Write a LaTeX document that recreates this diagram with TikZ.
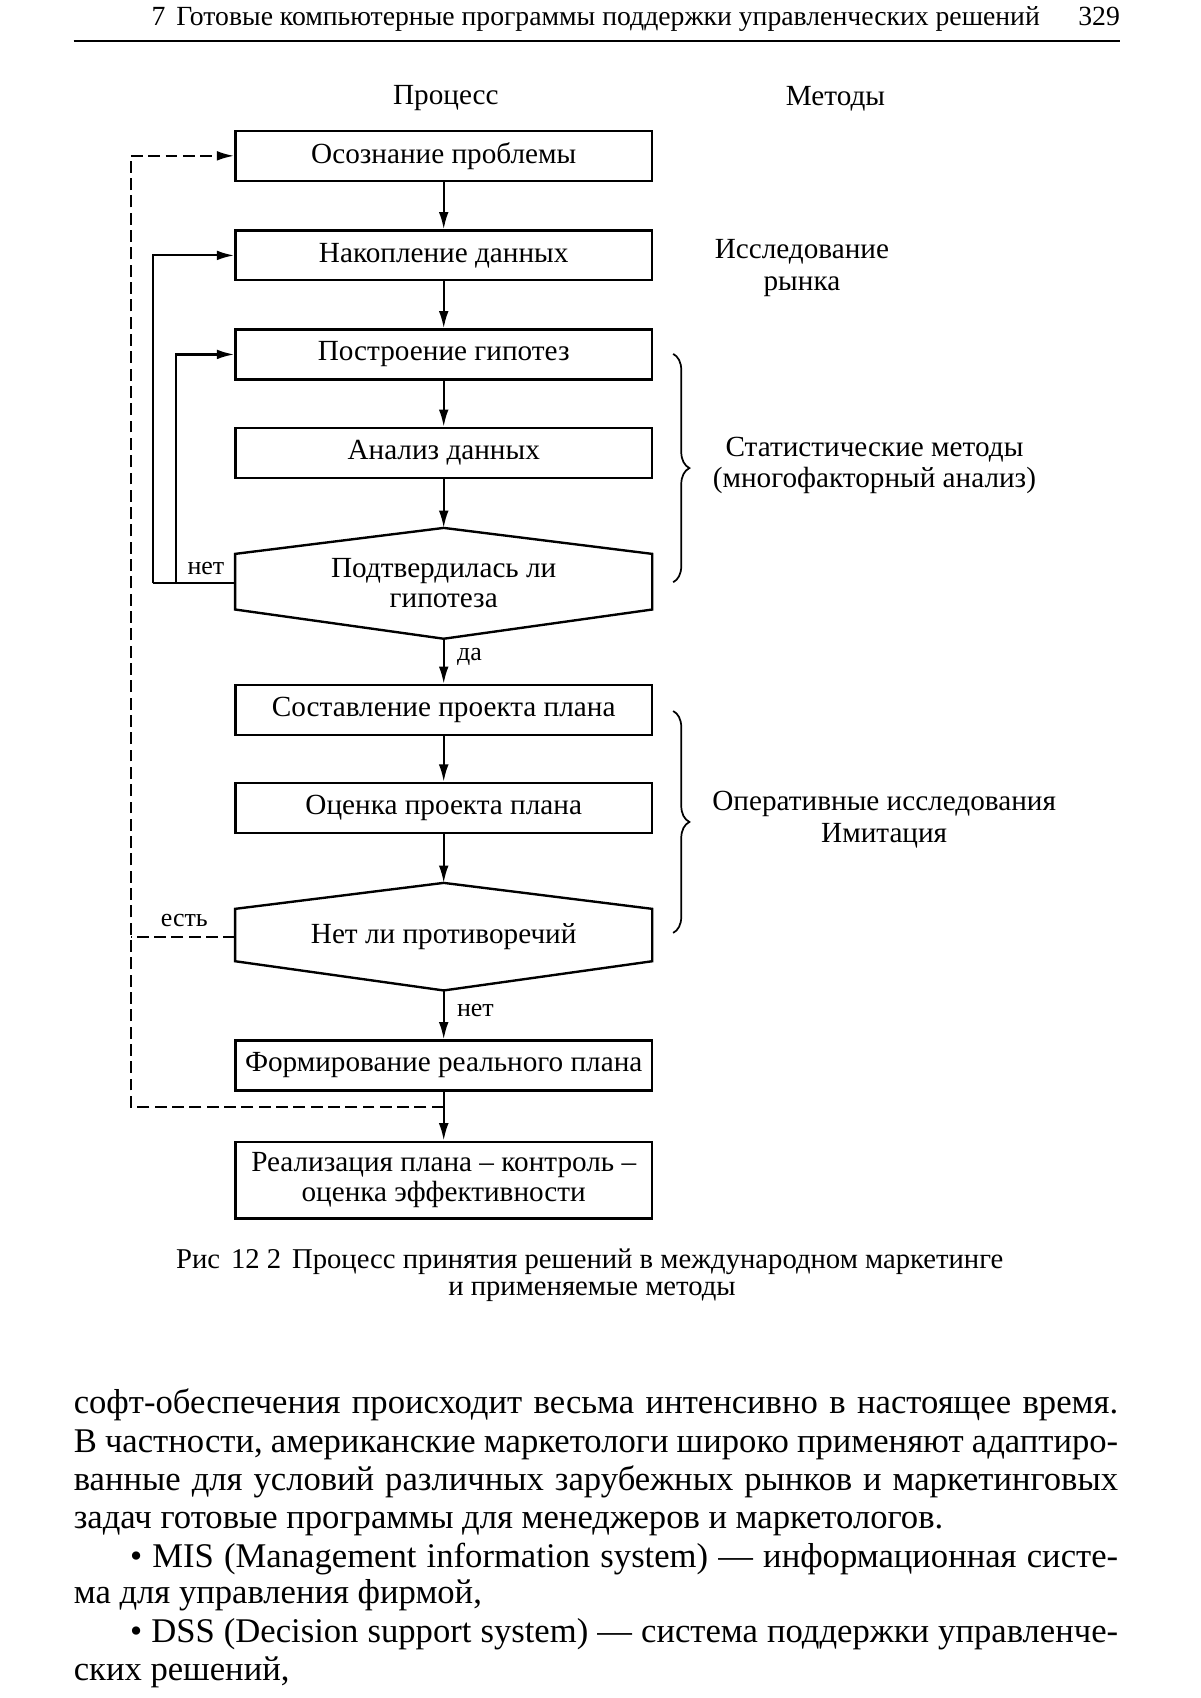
\documentclass[tikz,border=0pt]{standalone}
\usepackage{fontspec}
\setmainfont{Liberation Serif}
\usetikzlibrary{arrows.meta,calc,decorations.pathreplacing}
\newcommand\bxfont{\fontsize{27}{28}\selectfont}
\newcommand\lbfont{\fontsize{27}{29}\selectfont}
\newcommand\smfont{\fontsize{24}{28}\selectfont}
\newcommand\bdfont{\fontsize{32}{35}\selectfont}
\newcommand\hdfont{\fontsize{25.6}{28}\selectfont}
\newcommand\cpfont{\fontsize{26.5}{28}\selectfont}
\tikzset{
  box/.style={draw, line width=2.2pt, minimum width=385pt, minimum height=46pt, inner sep=0pt, font=\bxfont, align=center},
  hexnode/.style={minimum width=385pt, inner sep=0pt, font=\bxfont, align=center},
  hexline/.style={line width=2.2pt, line join=miter},
  arr/.style={line width=2pt, -{Latex[length=16pt,width=9pt]}},
  ln/.style={line width=2pt},
  dsh/.style={line width=2pt, dash pattern=on 11pt off 5pt},
  lbl/.style={font=\lbfont, align=center},
  yn/.style={font=\smfont},
  brc/.style={decorate, decoration={brace, amplitude=15pt}, line width=1.6pt},
  body/.style={font=\bdfont, anchor=base west, inner sep=0pt},
}
\begin{document}
\begin{tikzpicture}[x=1pt,y=-1pt]
\useasboundingbox (0,0) rectangle (1109,1569);
\fill[white] (0,0) rectangle (1109,1569);

% header
\node[font=\hdfont, anchor=base west, inner sep=0pt] (hdr) at (140,24) {7\hspace{10pt}Готовые компьютерные программы поддержки управленческих решений};
\node[font=\hdfont, anchor=base east, inner sep=0pt] (pg) at (1035,24) {329};
\draw[line width=2pt] (68,38) -- (1035,38);

% column headings
\node[lbl] (hp) at (412,91) {Процесс};
\node[lbl] (hm) at (772,91) {Методы};

% process
\node[box] (b1) at (410,144) {Осознание проблемы};
\node[box] (b2) at (410,236) {Накопление данных};
\node[box] (b3) at (410,327.5) {Построение гипотез};
\node[box] (b4) at (410,418.5) {Анализ данных};
\node[hexnode, minimum height=102pt] (d1) at (410,539) {Подтвердилась ли\\гипотеза};
\draw[hexline] (d1.north) -- ([yshift=-24pt]d1.north east) -- ([yshift=27pt]d1.south east) -- (d1.south) -- ([yshift=27pt]d1.south west) -- ([yshift=-24pt]d1.north west) -- cycle;
\node[box] (b7) at (410,656) {Составление проекта плана};
\node[box] (b8) at (410,746.5) {Оценка проекта плана};
\node[hexnode, minimum height=99pt] (d2) at (410,865.5) {Нет ли противоречий};
\draw[hexline] (d2.north) -- ([yshift=-24pt]d2.north east) -- ([yshift=27pt]d2.south east) -- (d2.south) -- ([yshift=27pt]d2.south west) -- ([yshift=-24pt]d2.north west) -- cycle;
\node[box] (b11) at (410,984.5) {Формирование реального плана};
\node[box, minimum height=71pt] (b12) at (410,1090.5) {Реализация плана -- контроль --\\оценка эффективности};

% main arrows
\draw[arr] (b1) -- (b2);
\draw[arr] (b2) -- (b3);
\draw[arr] (b3) -- (b4);
\draw[arr] (b4) -- (d1.north);
\draw[arr] (d1.south) -- node[yn, right, pos=0.4, xshift=8pt] (yes1) {да} (b7);
\draw[arr] (b7) -- (b8);
\draw[arr] (b8) -- (d2.north);
\draw[arr] (d2.south) -- node[yn, right, pos=0.4, xshift=8pt] (no2) {нет} (b11);
\draw[arr] (b11) -- (b12);

% solid feedback loops
\coordinate (o1) at ($(d1.west)+(-76,0)$);
\coordinate (i1) at ($(d1.west)+(-55,0)$);
\draw[ln] (d1.west) -- (o1);
\draw[arr] (o1) |- (b2.west);
\draw[arr] (i1) |- (b3.west);
\node[yn, anchor=south] (no1) at ($(d1.west)+(-27,-4)$) {нет};

% dashed feedback loop
\coordinate (j) at ($(b11.south)+(0,14)$);
\coordinate (L) at (121,144);
\draw[dsh] (j) -| (L);
\draw[dsh, -{Latex[length=16pt,width=9pt]}] (L) -- (b1.west);
\draw[dsh] (d2.west) -- (d2.west -| L);
\node[yn, anchor=south] (yes2) at ($(d2.west)+(-47,-6)$) {есть};

% methods
\node[lbl] (m1) at (741,247.5) {Исследование\\рынка};
\draw[brc] (622,327) -- (622,538);
\node[lbl] (m2) at (808,430) {Статистические методы\\(многофакторный анализ)};
\draw[brc] (622,657) -- (622,862);
\node[lbl] (m3) at (817,757.5) {Оперативные исследования\\Имитация};

% caption
\node[font=\cpfont, inner sep=0pt] (cap1) at (545,1166) {Рис\hspace{10pt}12 2\hspace{10pt}Процесс принятия решений в международном маркетинге};
\node[font=\cpfont, inner sep=0pt] (cap2) at (547,1194) {и применяемые методы};

% body text
\node[body] (t1) at (68,1306) {\makebox[965pt][s]{софт-обеспечения происходит весьма интенсивно в настоящее время.}};
\node[body] (t2) at (68,1342) {\makebox[965pt][s]{В частности, американские маркетологи широко применяют адаптиро-}};
\node[body] (t3) at (68,1377) {\makebox[965pt][s]{ванные для условий различных зарубежных рынков и маркетинговых}};
\node[body] (t4) at (68,1412) {задач готовые программы для менеджеров и маркетологов.};
\node[body] (t5) at (120,1448) {\makebox[913pt][s]{• MIS (Management information system) — информационная систе-}};
\node[body] (t6) at (68,1482) {ма для управления фирмой,};
\node[body] (t7) at (120,1518) {\makebox[913pt][s]{• DSS (Decision support system) — система поддержки управленче-}};
\node[body] (t8) at (68,1553) {ских решений,};
\end{tikzpicture}
\end{document}
